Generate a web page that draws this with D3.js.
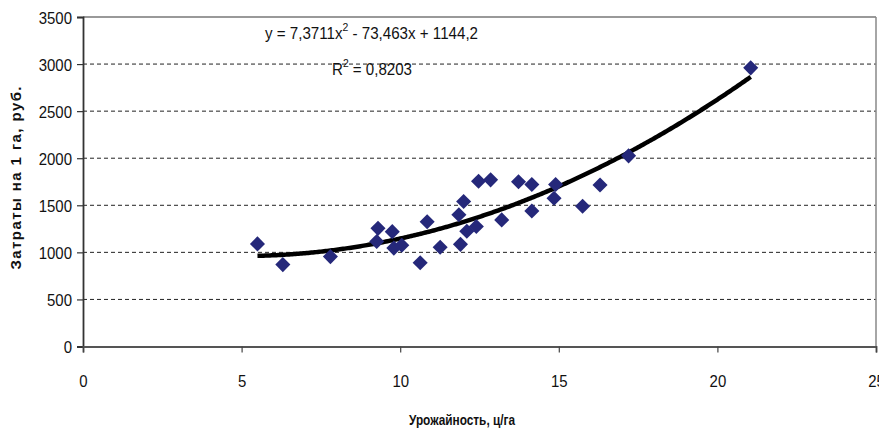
<!DOCTYPE html>
<html>
<head>
<meta charset="utf-8">
<script src="https://cdn.jsdelivr.net/npm/d3@7"></script>
<style>
  html, body { margin: 0; padding: 0; background: #fff; }
  svg { display: block; }
  .tick-lbl { font-family: "Liberation Sans", Arial, sans-serif; font-size: 17px; fill: #111; }
  .eq { font-family: "Liberation Sans", Arial, sans-serif; font-size: 16px; fill: #111; }
  .title { font-family: "Liberation Sans", Arial, sans-serif; font-weight: bold; fill: #111; }
</style>
</head>
<body>
<svg id="chart" width="879" height="431"></svg>
<script>
// Yield (c/ha) vs. cost per hectare (rub.)
const yieldValues = [5.5, 6.3, 7.8, 9.3, 9.26, 9.75, 9.8, 10.05, 10.63, 10.85, 11.26, 11.85, 11.9, 12.0, 12.1, 12.4, 12.47, 12.85, 13.2, 13.73, 14.15, 14.15, 14.85, 14.9, 15.75, 16.3, 17.2, 21.05];
const costValues  = [1090, 870, 955, 1255, 1115, 1220, 1045, 1075, 890, 1325, 1055, 1400, 1085, 1540, 1225, 1275, 1755, 1770, 1345, 1750, 1720, 1440, 1575, 1720, 1490, 1715, 2025, 2960];

const xTicks = [0, 5, 10, 15, 20, 25];
const yTicks = [0, 500, 1000, 1500, 2000, 2500, 3000, 3500];

// Quadratic trend: y = 7,3711x^2 - 73,463x + 1144,2
const trendCoef = [7.3711, -73.463, 1144.2];
const trendLabel = ["y = 7,3711x", "2", " - 73,463x + 1144,2"];
const r2Label = ["R", "2", " = 0,8203"];

const xTitle = "Урожайность, ц/га";
const yTitle = "Затраты на 1 га, руб.";

const svg = d3.select("#chart");
const plotLeft = 83, plotRight = 876, plotTop = 17, plotBottom = 346.5;

const x = d3.scaleLinear().domain([0, 25]).range([plotLeft, plotRight]);
const y = d3.scaleLinear().domain([0, 3500]).range([plotBottom, plotTop]);

// squeeze a text element horizontally to mimic a condensed face
function condense(sel, factor) {
  sel.each(function () {
    const w = this.getComputedTextLength();
    d3.select(this).attr("textLength", w * factor).attr("lengthAdjust", "spacingAndGlyphs");
  });
}

// dashed gridlines
svg.append("g").selectAll("line")
  .data(yTicks.filter(t => t > 0 && t < 3500))
  .join("line")
  .attr("x1", plotLeft).attr("x2", plotRight)
  .attr("y1", d => y(d)).attr("y2", d => y(d))
  .attr("stroke", "#222").attr("stroke-width", 1)
  .attr("stroke-dasharray", "4,3");

// plot frame (top and right)
svg.append("line").attr("x1", plotLeft).attr("x2", plotRight).attr("y1", y(3500)).attr("y2", y(3500))
  .attr("stroke", "#777").attr("stroke-width", 1.5);
svg.append("line").attr("x1", plotRight).attr("x2", plotRight).attr("y1", y(3500)).attr("y2", plotBottom)
  .attr("stroke", "#888").attr("stroke-width", 1.5);

// axes
const yAxis = svg.append("g").attr("transform", `translate(${plotLeft},0)`)
  .call(d3.axisLeft(y).tickValues(yTicks).tickSize(6).tickPadding(5).tickFormat(d3.format("d")));
yAxis.select(".domain").attr("stroke", "#333").attr("stroke-width", 1.8);
yAxis.selectAll(".tick line").attr("stroke", "#333").attr("stroke-width", 1.2);
yAxis.selectAll(".tick text").attr("class", "tick-lbl").attr("dy", "0.36em").call(condense, 0.88);

const xAxis = svg.append("g").attr("transform", `translate(0,${plotBottom})`)
  .call(d3.axisBottom(x).tickValues(xTicks).tickSize(6).tickPadding(22).tickFormat(d3.format("d")));
xAxis.select(".domain").attr("stroke", "#555").attr("stroke-width", 1.8);
xAxis.selectAll(".tick line").attr("stroke", "#444").attr("stroke-width", 1.2);
xAxis.selectAll(".tick text").attr("class", "tick-lbl").call(condense, 0.88);

// trend line
const trendXs = d3.range(5.5, 21.05 + 1e-9, 0.05);
const trend = x0 => trendCoef[0] * x0 * x0 + trendCoef[1] * x0 + trendCoef[2];
svg.append("path")
  .datum(trendXs)
  .attr("d", d3.line().x(d => x(d)).y(d => y(trend(d))))
  .attr("fill", "none").attr("stroke", "#000").attr("stroke-width", 4.5)
  .attr("stroke-linejoin", "round");

// data points (diamonds)
const pts = yieldValues.map((v, i) => [v, costValues[i]]);
svg.append("g").selectAll("path")
  .data(pts)
  .join("path")
  .attr("transform", d => `translate(${x(d[0])},${y(d[1])})`)
  .attr("d", d3.symbol().type(d3.symbolDiamond2).size(145))
  .attr("fill", "#25287a");

// equation labels
const eq = svg.append("text").attr("class", "eq").attr("x", 265).attr("y", 39);
eq.append("tspan").text(trendLabel[0]);
eq.append("tspan").attr("dy", -8).attr("font-size", 11).text(trendLabel[1]);
eq.append("tspan").attr("dy", 8).text(trendLabel[2]);
eq.attr("textLength", 213).attr("lengthAdjust", "spacingAndGlyphs");

const r2 = svg.append("text").attr("class", "eq").attr("x", 332).attr("y", 75);
r2.append("tspan").text(r2Label[0]);
r2.append("tspan").attr("dy", -8).attr("font-size", 11).text(r2Label[1]);
r2.append("tspan").attr("dy", 8).text(r2Label[2]);
r2.attr("textLength", 80).attr("lengthAdjust", "spacingAndGlyphs");

// axis titles
svg.append("text").attr("class", "title").attr("font-size", 15)
  .attr("x", 462).attr("y", 425).attr("text-anchor", "middle")
  .attr("textLength", 106).attr("lengthAdjust", "spacingAndGlyphs")
  .text(xTitle);
svg.append("text").attr("class", "title").attr("font-size", 15)
  .attr("transform", "translate(21,178) rotate(-90)")
  .attr("text-anchor", "middle")
  .attr("textLength", 183).attr("lengthAdjust", "spacing")
  .text(yTitle);
</script>
</body>
</html>
